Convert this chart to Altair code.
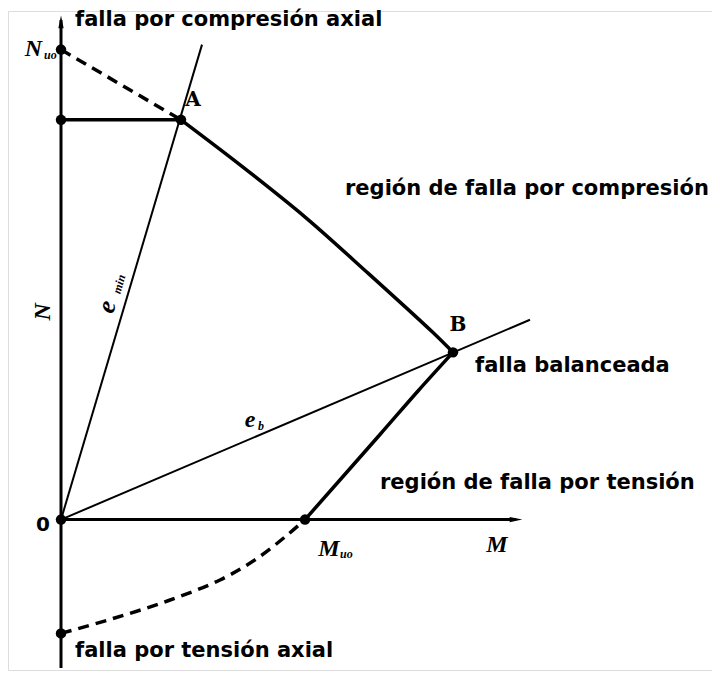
import altair as alt
import pandas as pd

# ---- diagram values (M, N) in drawing units, origin at O ----
n_axis_m = [0, 0]
n_axis_n = [-150, 505]
m_axis_m = [0, 455]
m_axis_n = [0, 0]
plateau_m = [0, 120]
plateau_n = [404, 404]
comp_m = [120, 181, 245, 306, 372, 392]
comp_n = [404, 357, 305, 250, 189, 169]
tens_m = [244, 319, 357, 392]
tens_n = [0, 86, 130, 169]
tens_dash_m = [0, 52, 107, 159, 195, 227, 244]
tens_dash_n = [-115, -100, -82, -61, -40, -15, 0]
comp_dash_m = [0, 120]
comp_dash_n = [475, 404]
emin_m = [0, 141]
emin_n = [0, 480]
eb_m = [0, 469]
eb_n = [0, 202]
dot_m = [0, 0, 0, 120, 392, 244, 0]
dot_n = [0, 475, 404, 404, 169, 0, -115]

# labels
sans_text = ["falla por compresión axial", "región de falla por compresión",
             "falla balanceada", "región de falla por tensión", "falla por tensión axial"]
sans_m = [14, 284, 414, 319, 14]
sans_n = [505, 334, 155, 37, -133]

zero_text = ["0"]
zero_m = [-18]
zero_n = [-5]

point_text = ["A", "B"]
point_m = [132, 397]
point_n = [424, 197]

sym_text = ["N", "M", "M", "e"]
sym_m = [-19, 268, 436, 189]
sym_n = [476, -30, -26, 101]
sym_align = ["right", "center", "center", "center"]

sub_text = ["uo", "uo", "b"]
sub_m = [-17, 279, 197]
sub_n = [470, -35, 95]

xs = alt.Scale(domain=[-53, 651], nice=False, zero=False)
ys = alt.Scale(domain=[-152, 514], nice=False, zero=False)


def seg_df(segs):
    rows = []
    for name, ms, ns in segs:
        for i, (m, n) in enumerate(zip(ms, ns)):
            rows.append({"seg": name, "i": i, "m": m, "n": n})
    return pd.DataFrame(rows)


def enc(ch):
    return ch.encode(
        x=alt.X("m:Q", scale=xs, axis=None),
        y=alt.Y("n:Q", scale=ys, axis=None),
    )


def line_layer(segs, **kw):
    return enc(alt.Chart(seg_df(segs)).mark_line(color="black", **kw)).encode(
        detail="seg:N", order="i:Q")


def text_layer(texts, ms, ns, **kw):
    df = pd.DataFrame({"t": texts, "m": ms, "n": ns})
    return enc(alt.Chart(df).mark_text(color="black", **kw)).encode(text="t:N")


axes = line_layer([("N", n_axis_m, n_axis_n), ("M", m_axis_m, m_axis_n)], strokeWidth=3)
plateau = line_layer([("p", plateau_m, plateau_n)], strokeWidth=3.5)
curves = line_layer([("c", comp_m, comp_n), ("t", tens_m, tens_n)],
                    strokeWidth=3.5, interpolate="catmull-rom")
rays = line_layer([("emin", emin_m, emin_n), ("eb", eb_m, eb_n)], strokeWidth=2)
dash_top = line_layer([("d1", comp_dash_m, comp_dash_n)], strokeWidth=3.5,
                      strokeDash=[11, 7])
dash_bot = line_layer([("d2", tens_dash_m, tens_dash_n)], strokeWidth=3.5,
                      strokeDash=[11, 7], interpolate="catmull-rom")

dots = enc(alt.Chart(pd.DataFrame({"m": dot_m, "n": dot_n})).mark_circle(
    color="black", size=110, opacity=1))

arrow_up = enc(alt.Chart(pd.DataFrame({"m": [0], "n": [503]})).mark_point(
    shape="M0,-1L0.42,1L-0.42,1Z", filled=True, color="black", size=160, opacity=1))
arrow_right = enc(alt.Chart(pd.DataFrame({"m": [455], "n": [0]})).mark_point(
    shape="M1,0L-1,0.42L-1,-0.42Z", filled=True, color="black", size=160, opacity=1))

sans = text_layer(sans_text, sans_m, sans_n, align="left", baseline="middle",
                  font="DejaVu Sans", fontSize=21, fontWeight="bold")
zero = text_layer(zero_text, zero_m, zero_n, align="center", baseline="middle",
                  font="DejaVu Sans", fontSize=20, fontWeight="bold")
pts = text_layer(point_text, point_m, point_n, align="center", baseline="middle",
                 font="DejaVu Serif", fontSize=20, fontWeight="bold")

sym_layers = []
for t, m, n, a in zip(sym_text, sym_m, sym_n, sym_align):
    sym_layers.append(text_layer([t], [m], [n], align=a, baseline="middle",
                                 font="Liberation Serif", fontSize=24,
                                 fontWeight="bold", fontStyle="italic"))
subs = text_layer(sub_text, sub_m, sub_n, align="left", baseline="middle",
                  font="Liberation Serif", fontSize=12, fontWeight="bold",
                  fontStyle="italic")

n_label = text_layer(["N"], [-18], [210], align="center", baseline="middle",
                     angle=270, font="Liberation Serif", fontSize=24,
                     fontWeight="bold", fontStyle="italic")
emin_e = text_layer(["e"], [46], [215], align="center", baseline="middle",
                    angle=286, font="Liberation Serif", fontSize=26,
                    fontWeight="bold", fontStyle="italic")
emin_sub = text_layer(["min"], [58], [238], align="center", baseline="middle",
                      angle=286, font="Liberation Serif", fontSize=12,
                      fontWeight="bold", fontStyle="italic")

chart = alt.layer(
    axes, plateau, curves, rays, dash_top, dash_bot, dots, arrow_up, arrow_right,
    sans, zero, pts, *sym_layers, subs, n_label, emin_e, emin_sub,
).properties(
    width=704, height=666, padding=0,
    autosize=alt.AutoSizeParams(type="fit", contains="padding"),
).configure_view(stroke="transparent", strokeWidth=0).configure(background="white")

chart.save("out.html", embed_options={"renderer": "svg", "actions": False})
